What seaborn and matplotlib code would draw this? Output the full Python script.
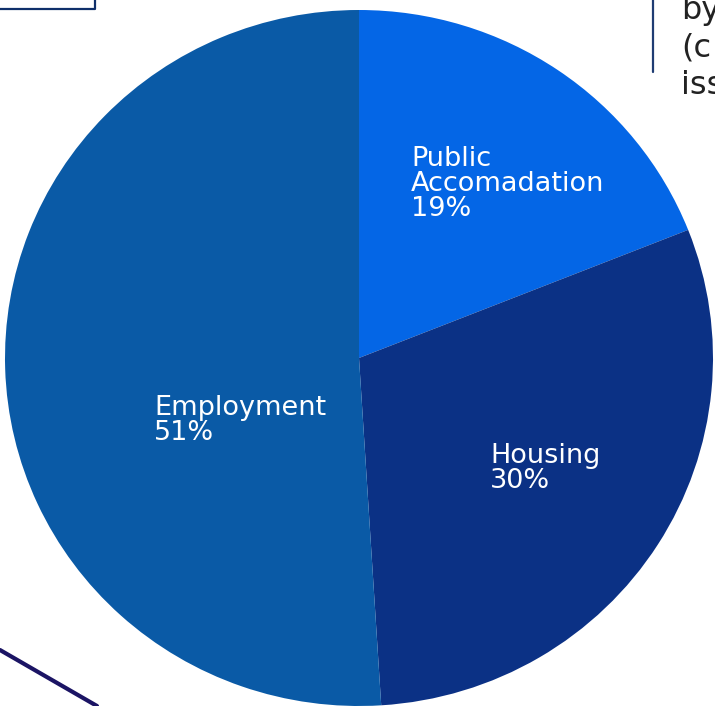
import numpy as np
import seaborn as sns
import matplotlib.pyplot as plt
from matplotlib.lines import Line2D

CATEGORIES = ["Public\nAccomadation", "Housing", "Employment"]
SHARES = [19, 30, 51]
COLORS = ["#0466E6", "#0B3185", "#0A5AA6"]
SIDE_TEXT = "by\n(c\niss"

W, H = 715, 706
CX, CY = 359, 358     # pie centre in pixels
RX, RY = 354, 348     # the pie is a touch wider than tall


def px(x, y):
    return x / W, 1 - y / H


def main():
    sns.set_theme(style="white")
    plt.rcParams["font.family"] = ["DejaVu Sans"]

    fig = plt.figure(figsize=(W / 100, H / 100), dpi=100)
    ax = fig.add_axes([0, 0, 1, 1])
    ax.set_axis_off()

    wedges, _ = ax.pie(SHARES, colors=COLORS, startangle=90,
                       counterclock=False, radius=1,
                       wedgeprops={"linewidth": 0})
    ax.set_xlim(-CX / RX, (W - CX) / RX)
    ax.set_ylim(-(H - CY) / RY, CY / RY)
    ax.set_aspect("auto")

    # label anchors (top-left of text block), pixel coords
    anchors = [(411, 146), (490, 443), (154, 395)]
    for lab, val, (lx, ly) in zip(CATEGORIES, SHARES, anchors):
        ax.text((lx - CX) / RX, (CY - ly) / RY, f"{lab}\n{val}%",
                color="white", fontsize=19.5, ha="left", va="top",
                linespacing=0.95)

    # decorations around the chart
    fig.add_artist(Line2D([0, 95 / W, 95 / W], [1 - 9 / H, 1 - 9 / H, 1],
                          transform=fig.transFigure, color="#0F2F6A", lw=1.6))
    fig.add_artist(Line2D([653 / W, 653 / W], [1, 1 - 72 / H],
                          transform=fig.transFigure, color="#1F3C73", lw=1.6))
    fig.add_artist(Line2D([0, 97 / W], [1 - 650 / H, 0],
                          transform=fig.transFigure, color="#1B1464", lw=3))
    fig.text(*px(681, -5), SIDE_TEXT, fontsize=23, color="#222222",
             ha="left", va="top", linespacing=1.27)

    fig.savefig("out.png", dpi=100)


if __name__ == "__main__":
    main()
